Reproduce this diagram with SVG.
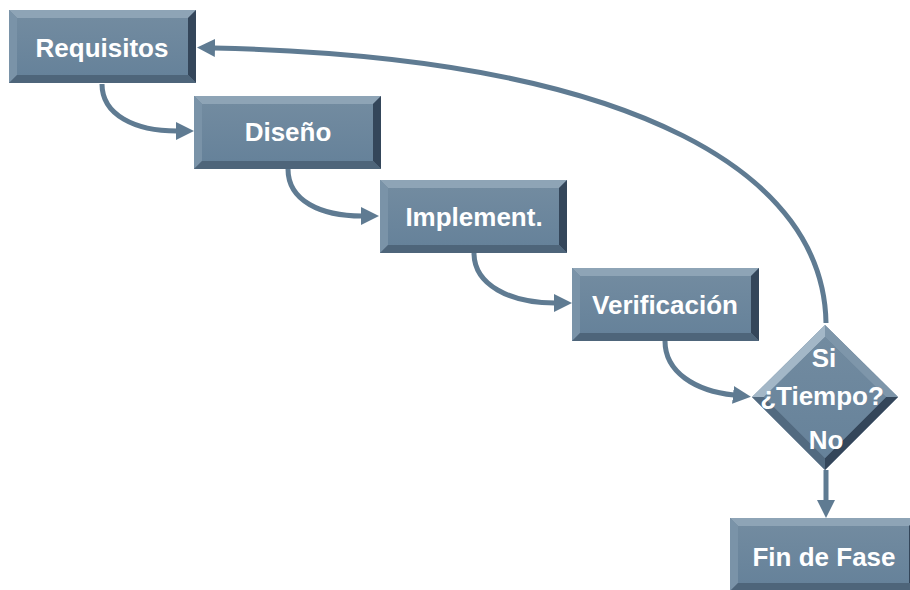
<svg xmlns="http://www.w3.org/2000/svg" xmlns:xlink="http://www.w3.org/1999/xlink" width="910" height="590" viewBox="0 0 910 590">
<style>
.lbl{font-family:"Liberation Sans",Arial,sans-serif;font-weight:bold;font-size:26px;fill:#ffffff;text-anchor:middle}
.conn{fill:none;stroke:#5f7b92;stroke-width:5}
</style>
<defs>
<linearGradient id="face" x1="0" y1="0" x2="0" y2="1">
<stop offset="0" stop-color="#728ba0"/>
<stop offset="1" stop-color="#66829a"/>
</linearGradient>
<marker id="ah" markerUnits="userSpaceOnUse" markerWidth="20" markerHeight="20" viewBox="0 -10 20 20" refX="1" refY="0" orient="auto">
<path d="M0,-9 L18,0 L0,9 z" fill="#5f7b92"/>
</marker>
<g id="box">
<rect x="0" y="0" width="187" height="73" fill="#6a8399"/>
<polygon points="0,0 187,0 179,8 8,8" fill="#8ea4b6"/>
<polygon points="0,0 8,8 8,65 0,73" fill="#7a93a8"/>
<polygon points="187,0 187,73 179,65 179,8" fill="#34465a"/>
<polygon points="0,73 8,65 179,65 187,73" fill="#4e657a"/>
<rect x="8" y="8" width="171" height="57" fill="url(#face)"/>
</g>
</defs>
<g id="connectors">
<path class="conn" d="M102,84 C102,115 135,131 177,131" marker-end="url(#ah)"/>
<path class="conn" d="M288,169 C288,201 321,216 362,216" marker-end="url(#ah)"/>
<path class="conn" d="M474,253 C474,285 510,303 555,303" marker-end="url(#ah)"/>
<path class="conn" d="M665,341 C665,372 695,391 734,395" marker-end="url(#ah)"/>
<path class="conn" d="M826,323 C824,180 650,58 214,48" marker-end="url(#ah)"/>
<path class="conn" d="M826,470 L826,501" marker-end="url(#ah)"/>
</g>
<g id="requisitos">
<use xlink:href="#box" x="9" y="10"/>
<text class="lbl" x="102" y="57">Requisitos</text>
</g>
<g id="diseno">
<use xlink:href="#box" x="194" y="96"/>
<text class="lbl" x="288" y="141">Diseño</text>
</g>
<g id="implement">
<use xlink:href="#box" x="380" y="180"/>
<text class="lbl" x="474" y="226">Implement.</text>
</g>
<g id="verificacion">
<use xlink:href="#box" x="572" y="268"/>
<text class="lbl" x="665" y="314">Verificación</text>
</g>
<g id="tiempo">
<polygon points="825,325 898,397 825,470 752,397" fill="#6a8399"/>
<polygon points="825,325 752,397 764,397 825,337" fill="#a3b7c7"/>
<polygon points="825,325 898,397 886,397 825,337" fill="#7e96aa"/>
<polygon points="898,397 825,470 825,458 886,397" fill="#34465a"/>
<polygon points="752,397 825,470 825,458 764,397" fill="#526a80"/>
<polygon points="825,337 886,397 825,458 764,397" fill="url(#face)"/>
<text class="lbl" x="824" y="367">Si</text>
<text class="lbl" x="822" y="405">¿Tiempo?</text>
<text class="lbl" x="826" y="449">No</text>
</g>
<g id="fin">
<use xlink:href="#box" x="730" y="518"/>
<text class="lbl" x="824" y="566">Fin de Fase</text>
</g>
</svg>
